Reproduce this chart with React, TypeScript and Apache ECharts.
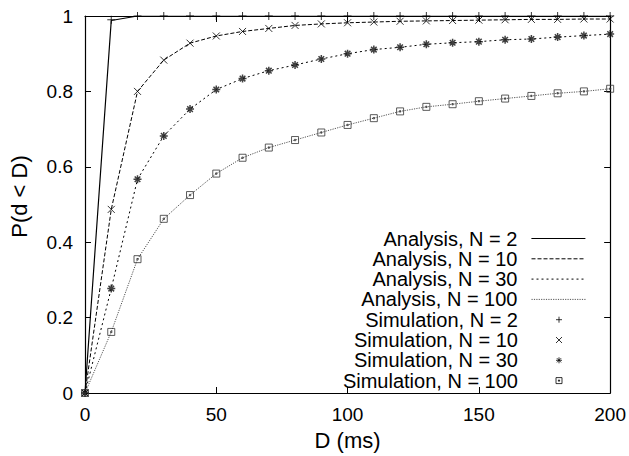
import React, { useEffect, useRef } from "react";
import * as echarts from "echarts";

const D = [0, 10, 20, 30, 40, 50, 60, 70, 80, 90, 100, 110, 120, 130, 140, 150, 160, 170, 180, 190, 200];

const anaN2 = [0, 0.988, 1, 1, 1, 1, 1, 1, 1, 1, 1, 1, 1, 1, 1, 1, 1, 1, 1, 1, 1];
const anaN10 = [0, 0.487, 0.8, 0.883, 0.928, 0.947, 0.959, 0.967, 0.975, 0.979, 0.982, 0.984, 0.986, 0.987, 0.988, 0.989, 0.99, 0.991, 0.991, 0.992, 0.992];
const anaN30 = [0, 0.277, 0.567, 0.682, 0.753, 0.805, 0.834, 0.855, 0.87, 0.886, 0.9, 0.911, 0.917, 0.925, 0.929, 0.932, 0.937, 0.939, 0.944, 0.948, 0.952];
const anaN100 = [0, 0.162, 0.355, 0.462, 0.525, 0.582, 0.624, 0.651, 0.671, 0.691, 0.711, 0.729, 0.747, 0.759, 0.766, 0.774, 0.781, 0.788, 0.795, 0.8, 0.807];

const simN2 = [0, 0.99, 1, 1, 1, 1, 1, 1, 1, 1, 1, 1, 1, 1, 1, 1, 1, 1, 1, 1, 1];
const simN10 = [0, 0.487, 0.8, 0.883, 0.928, 0.947, 0.959, 0.967, 0.975, 0.979, 0.982, 0.984, 0.986, 0.987, 0.988, 0.989, 0.99, 0.991, 0.991, 0.992, 0.992];
const simN30 = [0, 0.277, 0.567, 0.682, 0.753, 0.805, 0.834, 0.855, 0.87, 0.886, 0.9, 0.911, 0.917, 0.925, 0.929, 0.932, 0.937, 0.939, 0.944, 0.948, 0.952];
const simN100 = [0, 0.162, 0.355, 0.462, 0.525, 0.582, 0.624, 0.651, 0.671, 0.691, 0.711, 0.729, 0.747, 0.759, 0.766, 0.774, 0.781, 0.788, 0.795, 0.8, 0.807];

const seriesNames = [
  "Analysis, N = 2",
  "Analysis, N = 10",
  "Analysis, N = 30",
  "Analysis, N = 100",
  "Simulation, N = 2",
  "Simulation, N = 10",
  "Simulation, N = 30",
  "Simulation, N = 100",
];

const xTitle = "D (ms)";
const yTitle = "P(d < D)";

const FONT = "'Liberation Sans', Arial, Helvetica, sans-serif";

const PLUS = "path://M0,5L10,5M5,0L5,10";
const CROSS = "path://M0,0L10,10M10,0L0,10";
const STAR = "path://M0,5L10,5M5,0L5,10M1.5,1.5L8.5,8.5M8.5,1.5L1.5,8.5";
const BOX = "path://M0,0L10,0L10,10L0,10Z M4,4L6,4L6,6L4,6Z";

function pairs(vals: number[]) {
  return D.map((d, i) => [d, vals[i]]);
}

export default function App() {
  const ref = useRef<HTMLDivElement>(null);
  useEffect(() => {
    document.body.style.margin = "0";
    if (!ref.current) return;
    const chart = echarts.init(ref.current, null, { renderer: "svg" });

    const lineDefs = [
      { name: seriesNames[0], data: anaN2, color: "#000", type: "solid" as any, width: 1.2 },
      { name: seriesNames[1], data: anaN10, color: "#000", type: [4, 2], width: 1 },
      { name: seriesNames[2], data: anaN30, color: "#000", type: [2, 3], width: 1 },
      { name: seriesNames[3], data: anaN100, color: "#555", type: [1.2, 1.2], width: 1 },
    ];
    const simDefs = [
      { name: seriesNames[4], data: simN2, symbol: PLUS, size: 8, bw: 1, color: "#000" },
      { name: seriesNames[5], data: simN10, symbol: CROSS, size: 7, bw: 1, color: "#000" },
      { name: seriesNames[6], data: simN30, symbol: STAR, size: 8, bw: 1.5, color: "#111" },
      { name: seriesNames[7], data: simN100, symbol: BOX, size: 7, bw: 1, color: "#333" },
    ];

    const series: any[] = [
      ...lineDefs.map((l) => ({
        type: "line",
        name: l.name,
        data: pairs(l.data),
        symbol: "none",
        showSymbol: false,
        smooth: false,
        lineStyle: { color: l.color, width: l.width, type: l.type },
        itemStyle: { color: l.color },
        z: 2,
      })),
      ...simDefs.map((s) => ({
        type: "scatter",
        name: s.name,
        data: pairs(s.data),
        symbol: s.symbol,
        symbolSize: s.size,
        symbolKeepAspect: true,
        itemStyle: { color: "rgba(0,0,0,0)", borderColor: s.color, borderWidth: s.bw },
        z: 3,
      })),
    ];

    const legends = seriesNames.map((name, i) => {
      const isLine = i < 4;
      return {
        data: [name],
        orient: "vertical",
        align: "right",
        right: isLine ? 43 : 66.5,
        top: 228.5 + i * 20.3,
        padding: 0,
        itemGap: 0,
        itemWidth: 54,
        itemHeight: isLine ? 14 : 6,
        selectedMode: false,
        itemStyle: isLine
          ? { color: "rgba(0,0,0,0)", borderColor: "rgba(0,0,0,0)", borderWidth: 0, opacity: 0 }
          : { color: "rgba(0,0,0,0)", borderColor: "#000", borderWidth: 1 },
        lineStyle: isLine
          ? { width: lineDefs[i].width, color: lineDefs[i].color, type: lineDefs[i].type }
          : undefined,
        textStyle: {
          fontSize: 20,
          lineHeight: 20,
          fontFamily: FONT,
          color: "#000",
          padding: [0, 9, 0, 0],
        },
      };
    });

    const tickCommon = { show: true, inside: true, length: 6, lineStyle: { color: "#000", width: 1 } };
    const lineCommon = { show: true, onZero: false, lineStyle: { color: "#000", width: 1.2 } };
    const labelCommon = { fontSize: 19, fontFamily: FONT, color: "#000", margin: 12 };

    chart.setOption({
      animation: false,
      backgroundColor: "#fff",
      grid: { left: 85, right: 18, top: 16, bottom: 60, containLabel: false },
      legend: legends,
      xAxis: [
        {
          type: "value",
          min: 0,
          max: 200,
          interval: 50,
          position: "bottom",
          axisLine: lineCommon,
          axisTick: tickCommon,
          splitLine: { show: false },
          axisLabel: labelCommon,
          name: xTitle,
          nameLocation: "middle",
          nameGap: 36,
          nameTextStyle: { fontSize: 22, fontFamily: FONT, color: "#000" },
        },
        {
          type: "value",
          min: 0,
          max: 200,
          interval: 50,
          position: "top",
          axisLine: lineCommon,
          axisTick: tickCommon,
          splitLine: { show: false },
          axisLabel: { show: false },
        },
      ],
      yAxis: [
        {
          type: "value",
          min: 0,
          max: 1,
          interval: 0.2,
          position: "left",
          axisLine: lineCommon,
          axisTick: tickCommon,
          splitLine: { show: false },
          axisLabel: labelCommon,
          name: yTitle,
          nameLocation: "middle",
          nameGap: 55,
          nameTextStyle: { fontSize: 22, fontFamily: FONT, color: "#000", padding: [0, 0, 0, 16] },
        },
        {
          type: "value",
          min: 0,
          max: 1,
          interval: 0.2,
          position: "right",
          axisLine: lineCommon,
          axisTick: tickCommon,
          splitLine: { show: false },
          axisLabel: { show: false },
        },
      ],
      series,
    });
    return () => chart.dispose();
  }, []);
  return <div ref={ref} style={{ width: 629, height: 456 }} />;
}
